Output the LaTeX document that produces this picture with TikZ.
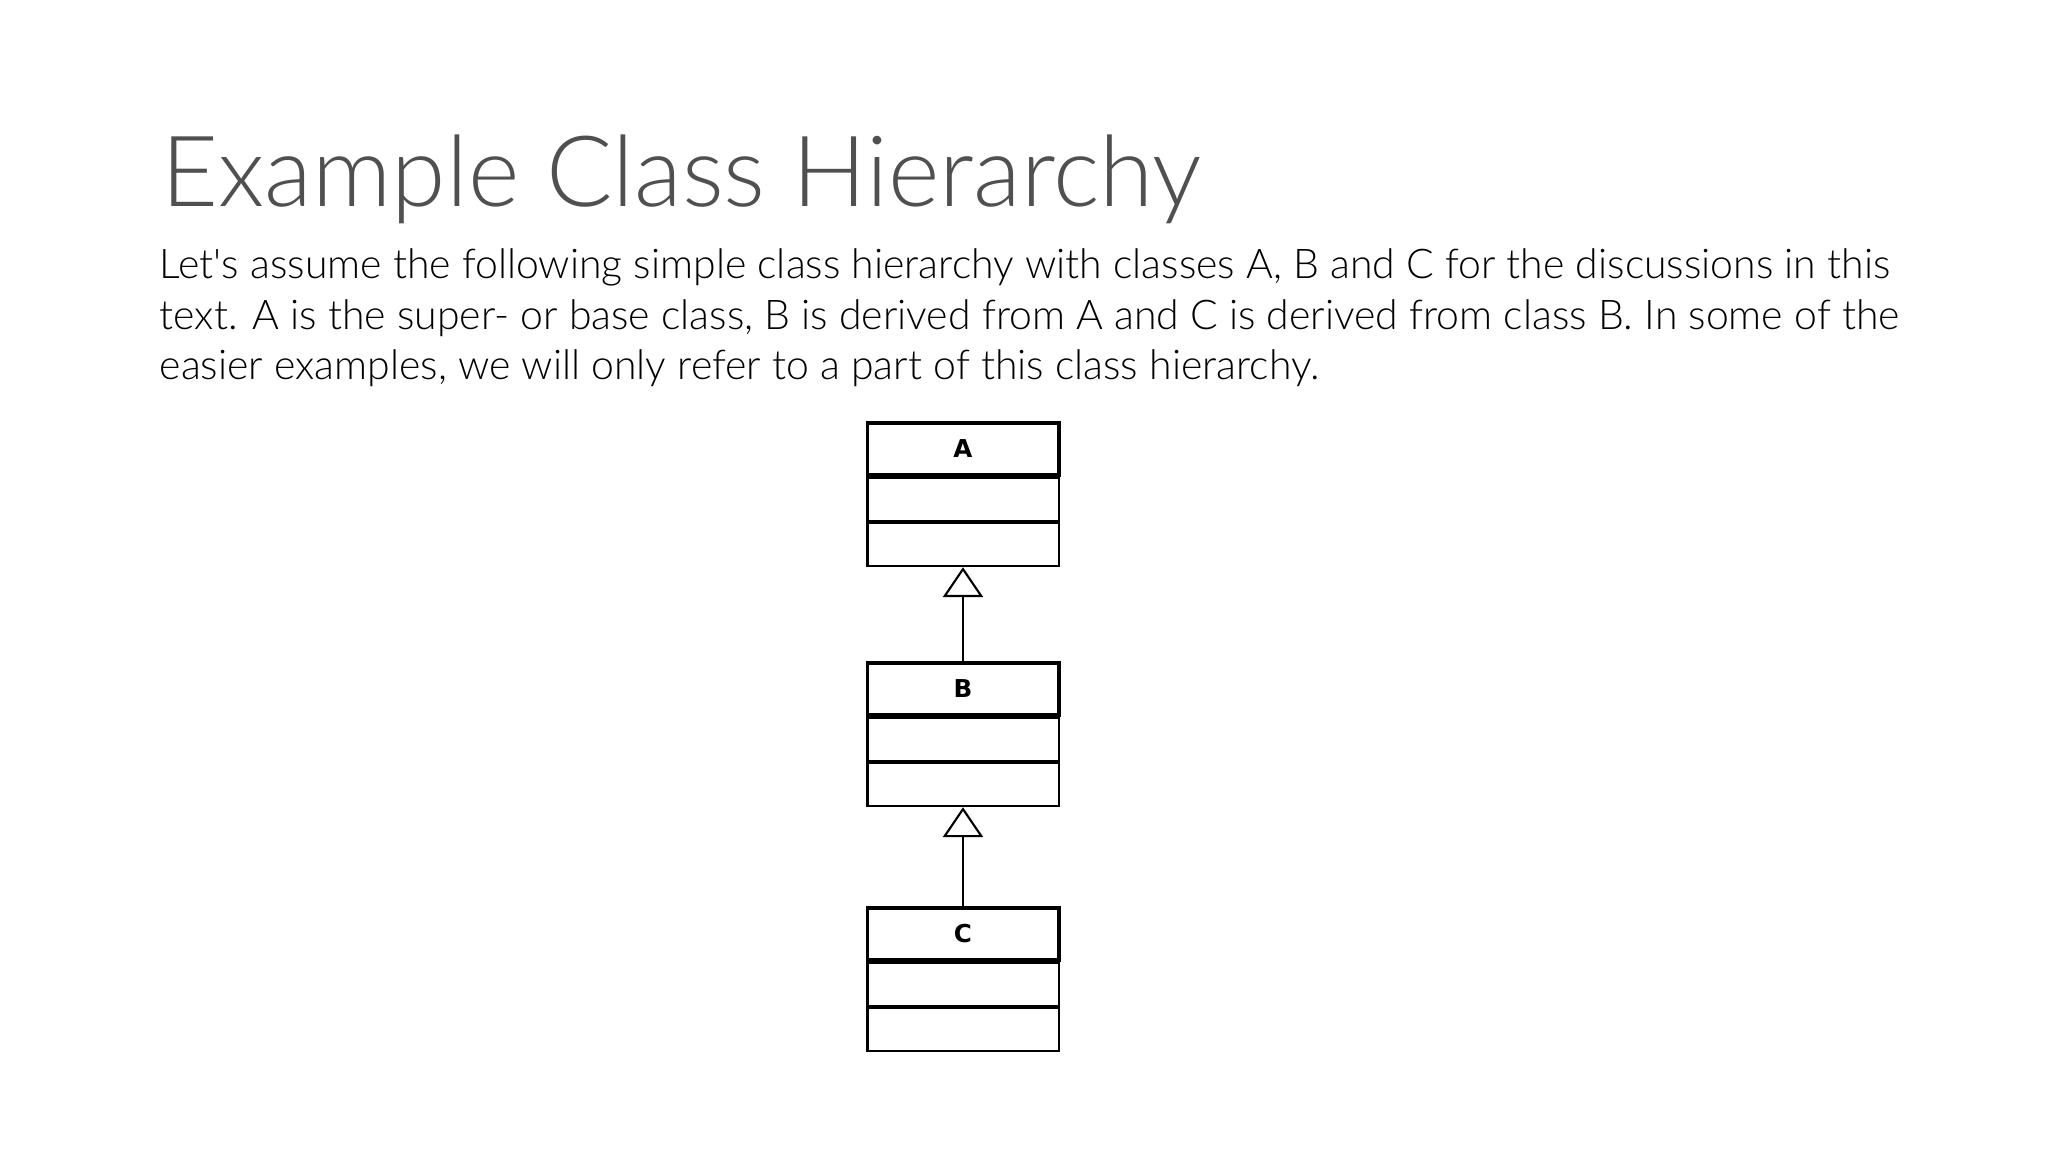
\documentclass[tikz,border=0pt]{standalone}
\usepackage{fontspec}
\setmainfont{Lato}[UprightFont={* Light}]
\newfontfamily\umlfont{DejaVu Sans}
\usetikzlibrary{positioning,arrows.meta}

\definecolor{titlegray}{HTML}{505050}

\tikzset{
  classhead/.style={draw, line width=1.1pt, minimum width=1.91cm, minimum height=0.52cm,
    inner sep=0pt, font=\umlfont\bfseries\fontsize{7}{8}\selectfont},
  classpart/.style={draw, line width=0.6pt, minimum width=1.91cm, minimum height=0.43cm, inner sep=0pt},
  inherits/.style={line width=0.6pt, -{Triangle[open, length=8.5pt, width=11.4pt, line width=0.6pt]}}
}

\begin{document}
\begin{tikzpicture}[x=0.01cm, y=-0.01cm]
        \useasboundingbox (0, 0) rectangle (2048, 1152);

        \node[anchor=base west, text=titlegray, font=\fontsize{28}{34}\selectfont, inner sep=0pt] (title) at (161, 207) {Example Class Hierarchy};
        % base of a multi-line node is the last line
        \node[anchor=base west, align=left, font=\fontsize{11.65}{14.5}\selectfont, inner sep=0pt] (intro) at (159, 380)
          {Let\textquotesingle s assume the following simple class hierarchy with classes A, B and C for the discussions in this\\
           text. A is the super- or base class, B is derived from A and C is derived from class B. In some of the\\
           easier examples, we will only refer to a part of this class hierarchy.};

        \node[classhead] (Ahead) at (963, 449) {A};
        \node[classpart, below=0pt of Ahead] (Aattr) {};
        \node[classpart, below=0pt of Aattr] (Aops) {};

        \node[classhead] (Bhead) at (963, 689) {B};
        \node[classpart, below=0pt of Bhead] (Battr) {};
        \node[classpart, below=0pt of Battr] (Bops) {};

        \node[classhead] (Chead) at (963, 934) {C};
        \node[classpart, below=0pt of Chead] (Cattr) {};
        \node[classpart, below=0pt of Cattr] (Cops) {};

        \draw[inherits] (Bhead.north) -- (Aops.south);
        \draw[inherits] (Chead.north) -- (Bops.south);

    \end{tikzpicture}
\end{document}
